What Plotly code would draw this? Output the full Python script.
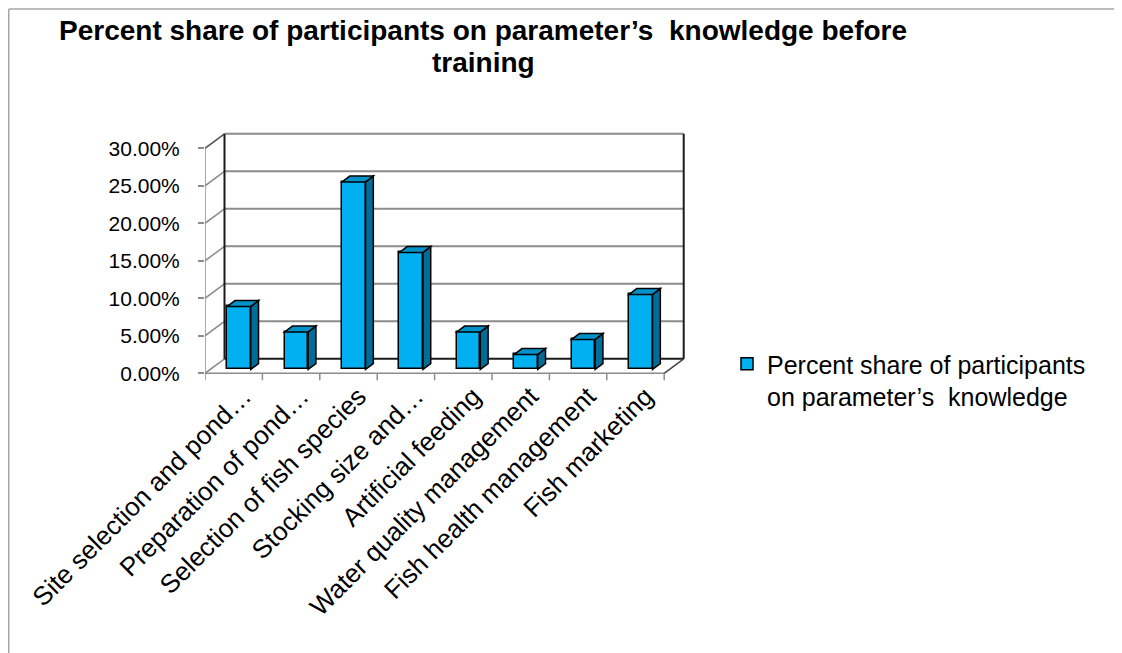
import plotly.graph_objects as go

# ---- data -------------------------------------------------------------
categories = [
    "Site selection and pond…",
    "Preparation of pond…",
    "Selection of fish species",
    "Stocking size and…",
    "Artificial feeding",
    "Water quality management",
    "Fish health management",
    "Fish marketing",
]
share = [0.084, 0.05, 0.25, 0.156, 0.05, 0.02, 0.04, 0.10]
y_ticks = [0.0, 0.05, 0.10, 0.15, 0.20, 0.25, 0.30]
series_name = "Percent share of participants<br>on parameter\u2019s\u00a0 knowledge"
title_lines = ["Percent share of participants on parameter\u2019s\u00a0 knowledge before",
               "training"]

# ---- pseudo-3D geometry (pixels -> data units) -------------------------
# the page body has an 8px margin, so figure pixels = screen pixels - 8
OFF = 8
W, H = 1122 - OFF, 653 - OFF
X0, UX = 205 - OFF, 57.4        # front-left corner, px per category
Y0, UY = 373.3 - OFF, 750.0     # floor front line, px per 1.0 (100%)
DX, DY = 19.5 / UX, 14.5 / UY   # depth of floor / side wall
BAR_W = 0.41
BAR_FRONT, BAR_BACK = 0.27, 0.67  # bar depth as fraction of floor depth

PLOT_L, PLOT_R, PLOT_T, PLOT_B = X0, 692 - OFF, 127 - OFF, 381 - OFF
x_range = [0, (PLOT_R - X0) / UX]
y_range = [-(PLOT_B - Y0) / UY, (Y0 - PLOT_T) / UY]
n = len(categories)
top = y_ticks[-1]

FRONT = "#00B0F0"
SIDE = "#006C98"
TOPC = "#0092C8"
GRID = "#8C8C8C"
DARK = "#1A1A1A"
FONT = "Liberation Sans, Arial, sans-serif"


def line(x0, y0, x1, y1, color=GRID, width=2, layer="below"):
    return dict(type="line", xref="x", yref="y", x0=x0, y0=y0, x1=x1, y1=y1,
                line=dict(color=color, width=width), layer=layer)


def px_x(px):
    return (px - PLOT_L) / (PLOT_R - PLOT_L)


def px_y(py):
    return (PLOT_B - py) / (PLOT_B - PLOT_T)


shapes = []
# back wall gridlines + left wall diagonals
for v in y_ticks:
    if v > 0:
        shapes.append(line(DX, v + DY, n + DX, v + DY))
    shapes.append(line(0, v, DX, v + DY, color=GRID if v < top else "#555555", width=1.5))
# wall edges
shapes.append(line(DX, DY, DX, top + DY, color=DARK, width=2))
shapes.append(line(n + DX, DY, n + DX, top + DY, color=DARK, width=2))
shapes.append(line(0, 0, 0, top, color=GRID, width=1.5))
# floor
shapes.append(line(0, 0, n, 0, color=GRID, width=1.5))
shapes.append(line(DX, DY, n + DX, DY, color=DARK, width=2))
shapes.append(line(n, 0, n + DX, DY, color="#444444", width=1.5))
# category tick marks under the floor
for k in range(n + 1):
    shapes.append(line(k, 0, k, -7 / UY, color=GRID, width=1.5))

# bar side and top faces
fx, fy = BAR_FRONT * DX, BAR_FRONT * DY
bx, by = BAR_BACK * DX, BAR_BACK * DY
bar_x = [i + 0.5 + fx for i in range(n)]
for xc, v in zip(bar_x, share):
    xl, xr = xc - BAR_W / 2, xc + BAR_W / 2
    ddx, ddy = bx - fx, by - fy
    side = (f"M{xr},{fy} L{xr + ddx},{fy + ddy} L{xr + ddx},{v + fy + ddy} "
            f"L{xr},{v + fy} Z")
    topf = (f"M{xl},{v + fy} L{xr},{v + fy} L{xr + ddx},{v + fy + ddy} "
            f"L{xl + ddx},{v + fy + ddy} Z")
    for p, c in ((side, SIDE), (topf, TOPC)):
        shapes.append(dict(type="path", xref="x", yref="y", path=p, fillcolor=c,
                           line=dict(color="#000000", width=1.5), layer="above"))

# outer chart frame (top and left edges)
shapes.append(dict(type="line", xref="paper", yref="paper",
                   x0=px_x(0.75), y0=px_y(1), x1=px_x(W + 5), y1=px_y(1),
                   line=dict(color="#A6A6A6", width=1.5)))
shapes.append(dict(type="line", xref="paper", yref="paper",
                   x0=px_x(0.75), y0=px_y(1), x1=px_x(0.75), y1=px_y(H + 5),
                   line=dict(color="#A6A6A6", width=1.5)))

fig = go.Figure()
fig.add_trace(go.Bar(
    x=bar_x,
    y=share,
    base=fy,
    width=BAR_W,
    name=series_name,
    marker=dict(color=FRONT, line=dict(color="#000000", width=1.5)),
    showlegend=True,
    cliponaxis=False,
))

# two-line bold title, lines placed separately for tighter spacing
for txt, cy in zip(title_lines, [30 - OFF, 62 - OFF]):
    fig.add_annotation(
        text=f"<b>{txt}</b>",
        xref="paper", yref="paper",
        x=px_x(483 - OFF), y=px_y(cy),
        xanchor="center", yanchor="middle",
        showarrow=False,
        font=dict(family=FONT, size=28, color="#000000"),
        borderpad=0,
    )

fig.update_layout(
    width=W,
    height=H,
    paper_bgcolor="white",
    plot_bgcolor="rgba(0,0,0,0)",
    margin=dict(l=PLOT_L, r=W - PLOT_R, t=PLOT_T, b=H - PLOT_B, autoexpand=False),
    font=dict(family=FONT, size=21, color="#000000"),
    showlegend=True,
    legend=dict(xref="container", yref="container", x=(727 - OFF) / W,
                y=1 - (341 - OFF) / H, xanchor="left", yanchor="top",
                bgcolor="rgba(0,0,0,0)", font=dict(size=25), valign="top"),
    shapes=shapes,
    bargap=0,
)
fig.update_xaxes(
    range=x_range,
    tickmode="array",
    tickvals=[i + 0.5 for i in range(n)],
    ticktext=categories,
    tickangle=-45,
    showgrid=False,
    zeroline=False,
    showline=False,
    ticks="",
    tickfont=dict(size=26),
    ticklabelstandoff=-6,
    ticklabelshift=10,
)
fig.update_yaxes(
    range=y_range,
    tickmode="array",
    tickvals=y_ticks,
    tickformat=".2%",
    showgrid=False,
    zeroline=False,
    showline=False,
    ticks="outside",
    ticklen=6,
    tickwidth=1.5,
    tickcolor=GRID,
    ticklabelstandoff=14,
    tickfont=dict(size=21),
)

fig.write_html("out.html")
